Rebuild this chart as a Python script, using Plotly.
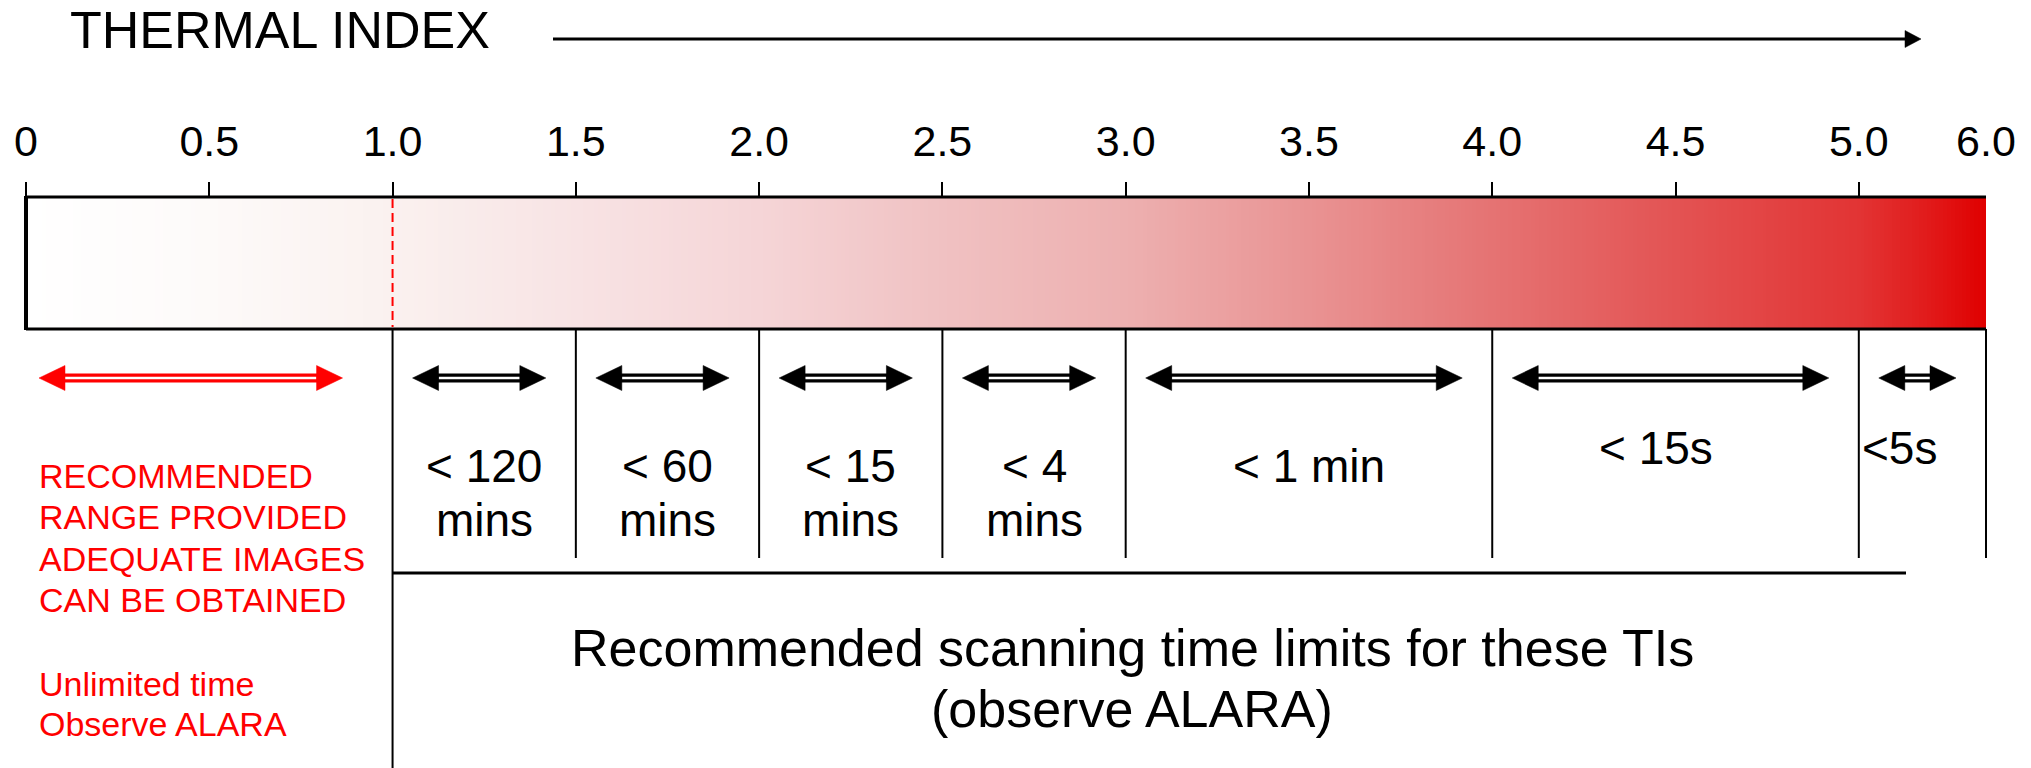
import numpy as np
import plotly.graph_objects as go

W, H = 2031, 768
FONT = "Liberation Sans, Arial, sans-serif"

# ---------------- data ----------------
TITLE = "THERMAL INDEX"
TICK_VALUES = [0, 0.5, 1.0, 1.5, 2.0, 2.5, 3.0, 3.5, 4.0, 4.5, 5.0]
TICK_LABELS = ["0", "0.5", "1.0", "1.5", "2.0", "2.5", "3.0", "3.5", "4.0", "4.5", "5.0"]
END_VALUE = 6.0
END_LABEL = "6.0"
SAFE_RANGE = [0.0, 1.0]
SEGMENT_START = [1.0, 1.5, 2.0, 2.5, 3.0, 4.0, 5.0]
SEGMENT_END = [1.5, 2.0, 2.5, 3.0, 4.0, 5.0, 6.0]
SEGMENT_LINE1 = ["< 120", "< 60", "< 15", "< 4", "< 1 min", "< 15s", "<5s"]
SEGMENT_LINE2 = ["mins", "mins", "mins", "mins", "", "", ""]
SAFE_TEXT = ["RECOMMENDED", "RANGE PROVIDED", "ADEQUATE IMAGES", "CAN BE OBTAINED"]
SAFE_NOTE = ["Unlimited time", "Observe ALARA"]
FOOTER = ["Recommended scanning time limits for these TIs", "(observe ALARA)"]
# colour gradient of the index bar (TI value -> colour)
GRAD_TI = [0, 0.5, 1.0, 1.5, 2.0, 2.5, 3.0, 3.5, 4.0, 4.5, 5.0, 5.5, 6.0]
GRAD_COL = ["#FFFFFF", "#FDFAF9", "#FAF1EF", "#F8E3E4", "#F5D5D7", "#F0C1C2",
            "#EDB0B0", "#E99393", "#E57373", "#E35353", "#E23434", "#E11D1D", "#E00000"]

# ---------------- layout constants (page pixels) ----------------
PX0 = 26.0                          # pixel of TI 0
PPU = 366.56                        # pixels per TI unit (0..5)
BAR_RIGHT = 1986.0                  # pixel of TI 6.0 (last interval drawn compressed)
LAST = (BAR_RIGHT - (PX0 + 5 * PPU)) / PPU
BAR_TOP, BAR_BOT = 197, 329
ARROW_Y = 378
DIV_BOT = 558
HLINE_Y = 573
SEG_BASE1 = [483, 483, 483, 483, 483, 465, 465]
SEG_BASE2 = 537
SEG_ALIGN = ["center", "center", "center", "center", "center", "center", "left"]
SEG_NUDGE = [0, 0, 0, 0, 0, -20, 2]


def pos(ti):
    return ti if ti <= 5 else 5 + (ti - 5) * LAST


def inv(p):
    return p if p <= 5 else 5 + (p - 5) / LAST


def u(px):
    return px / PPU


def xp(px):
    return (px - PX0) / PPU


fig = go.Figure()

# gradient bar
N = 500
edges = np.linspace(pos(0), pos(END_VALUE), N + 1)
centers = (edges[:-1] + edges[1:]) / 2
zrow = [inv(c) for c in centers]
cscale = [[t / END_VALUE, c] for t, c in zip(GRAD_TI, GRAD_COL)]
fig.add_trace(go.Heatmap(x=edges, y=[BAR_TOP, BAR_BOT], z=[zrow], colorscale=cscale,
                         zmin=0, zmax=END_VALUE, showscale=False, hoverinfo="skip"))

# invisible trace for second x axis
fig.add_trace(go.Scatter(x=[pos(END_VALUE)], y=[BAR_TOP], xaxis="x2", mode="markers",
                         marker=dict(opacity=0), hoverinfo="skip", showlegend=False))

# bar outline
for y in (BAR_TOP, BAR_BOT):
    fig.add_shape(type="line", xref="x", yref="y", x0=pos(0), x1=pos(END_VALUE), y0=y, y1=y,
                  line=dict(color="black", width=3))
fig.add_shape(type="line", xref="x", yref="y", x0=pos(0), x1=pos(0), y0=BAR_TOP - 1, y1=BAR_BOT + 1,
              line=dict(color="black", width=4))
# red dashed line at TI 1.0
fig.add_shape(type="line", xref="x", yref="y", x0=pos(SAFE_RANGE[1]), x1=pos(SAFE_RANGE[1]),
              y0=BAR_TOP + 2, y1=BAR_BOT - 2, line=dict(color="#FF0000", width=2, dash="9px,5px"))

# dividers
dx, dy = [], []
for i, b in enumerate([SEGMENT_START[0]] + SEGMENT_END):
    dx += [pos(b), pos(b), None]
    dy += [BAR_BOT, H if i == 0 else DIV_BOT, None]
fig.add_trace(go.Scatter(x=dx, y=dy, mode="lines", line=dict(color="black", width=2),
                         hoverinfo="skip", showlegend=False))
# horizontal line under the time limits
fig.add_trace(go.Scatter(x=[pos(SEGMENT_START[0]), pos(END_VALUE) - u(80)], y=[HLINE_Y, HLINE_Y],
                         mode="lines", line=dict(color="black", width=3),
                         hoverinfo="skip", showlegend=False))


def double_arrow(x0, x1, color, y=ARROW_Y, hl=26, hh=12.5):
    L = u(hl)
    fig.add_trace(go.Scatter(x=[x0 + L * 0.9, x1 - L * 0.9], y=[y, y], mode="lines",
                             line=dict(color=color, width=9), hoverinfo="skip", showlegend=False))
    fig.add_trace(go.Scatter(x=[x0 + L, x1 - L], y=[y, y], mode="lines",
                             line=dict(color="white", width=2.5), hoverinfo="skip", showlegend=False))
    for tip, base in ((x0, x0 + L), (x1, x1 - L)):
        fig.add_trace(go.Scatter(x=[tip, base, base, tip], y=[y, y - hh, y + hh, y],
                                 mode="lines", fill="toself", fillcolor=color,
                                 line=dict(color=color, width=0.5), hoverinfo="skip", showlegend=False))


IN_L, IN_R = u(20), u(30)
double_arrow(pos(SAFE_RANGE[0]) + u(13), pos(SAFE_RANGE[1]) - u(50), "#FF0000")
for a, b in zip(SEGMENT_START, SEGMENT_END):
    double_arrow(pos(a) + IN_L, pos(b) - IN_R, "black")

# top arrow
TA0, TA1, TAY = xp(553), xp(1921), 39
fig.add_trace(go.Scatter(x=[TA0, TA1 - u(14)], y=[TAY, TAY], mode="lines",
                         line=dict(color="black", width=3), hoverinfo="skip", showlegend=False))
fig.add_trace(go.Scatter(x=[TA1, TA1 - u(16), TA1 - u(16), TA1], y=[TAY, TAY - 8.5, TAY + 8.5, TAY],
                         mode="lines", fill="toself", fillcolor="black", line=dict(color="black", width=0.5),
                         hoverinfo="skip", showlegend=False))


def text(x, baseline, s, size, color="black", xanchor="center", xref="x"):
    fig.add_annotation(x=x, xref=xref, y=baseline + 0.212 * size, yref="y", yanchor="bottom",
                       xanchor=xanchor, text=s, showarrow=False, borderpad=0,
                       font=dict(family=FONT, size=size, color=color))


text(xp(69), 49, TITLE, 52, xanchor="left")
for i, s in enumerate(SAFE_TEXT):
    text(xp(38), [489, 530, 572, 613][i], s, 34, color="#FF0000", xanchor="left")
for i, s in enumerate(SAFE_NOTE):
    text(xp(38), [697, 737][i], s, 34, color="#FF0000", xanchor="left")
for a, b, l1, l2, b1, al, nd in zip(SEGMENT_START, SEGMENT_END, SEGMENT_LINE1, SEGMENT_LINE2,
                                    SEG_BASE1, SEG_ALIGN, SEG_NUDGE):
    c = (pos(a) + pos(b)) / 2 if al == "center" else pos(a)
    text(c + u(nd), b1, l1, 46, xanchor=al)
    if l2:
        text(c + u(nd), SEG_BASE2, l2, 46, xanchor=al)
for i, s in enumerate(FOOTER):
    text(xp(1132), [667, 728][i], s, 52)

axis_common = dict(range=[xp(0), xp(W)], domain=[0, 1], anchor="free", position=1 - BAR_TOP / H,
                   side="top", showline=False, showgrid=False, zeroline=False, ticks="outside",
                   ticklen=15, tickwidth=2, fixedrange=True, ticklabelstandoff=9,
                   tickfont=dict(family=FONT, size=43, color="black"))
fig.update_layout(
    width=W, height=H, margin=dict(l=0, r=0, t=0, b=0),
    paper_bgcolor="white", plot_bgcolor="white", showlegend=False,
    xaxis=dict(**axis_common, tickvals=[pos(v) for v in TICK_VALUES], ticktext=TICK_LABELS,
               tickcolor="black"),
    xaxis2=dict(**axis_common, overlaying="x", tickvals=[pos(END_VALUE)], ticktext=[END_LABEL],
                tickcolor="rgba(0,0,0,0)"),
    yaxis=dict(range=[H, 0], domain=[0, 1], visible=False, fixedrange=True),
)

# remove the browser's default page margin so the 2031x768 figure fills the window exactly
fig.write_html("out.html", config={"displayModeBar": False, "staticPlot": True},
               post_script="document.body.style.margin='0px';")
